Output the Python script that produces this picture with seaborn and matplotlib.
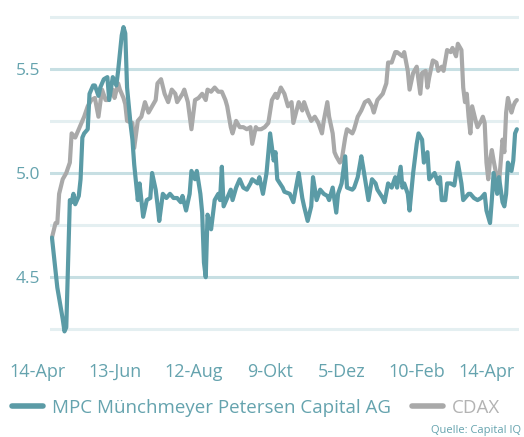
import matplotlib.pyplot as plt
import matplotlib.transforms as mtransforms
import seaborn as sns

sns.set_theme(style="white")
plt.rcParams["font.family"] = ["Open Sans", "DejaVu Sans"]

# DATEN (Handelstage ab 14-Apr)

mpc_tag = [0, 3, 6, 7, 8, 10, 11, 12, 13, 15, 16, 17, 18, 20, 21, 23, 24, 26, 27, 29,
           31, 32, 34, 36, 37, 39, 40, 41, 42, 44, 45, 46, 48, 49, 51, 53, 55, 56, 58, 59,
           60, 62, 64, 66, 68, 70, 72, 73, 75, 77, 78, 80, 81, 83, 84, 85, 86, 87, 88, 89,
           91, 93, 94, 95, 96, 98, 100, 101, 103, 105, 107, 109, 111, 112, 115, 116, 118, 120, 122, 124,
           125, 126, 129, 130, 133, 135, 138, 140, 141, 143, 145, 146, 148, 150, 152, 154, 155, 157, 159, 160,
           162, 164, 165, 168, 169, 171, 173, 174, 177, 179, 181, 182, 185, 186, 188, 190, 192, 193, 195, 196,
           197, 199, 200, 202, 204, 205, 207, 208, 210, 211, 212, 214, 216, 217, 218, 220, 221, 223, 225, 227,
           229, 230, 233, 234, 236, 238, 240, 242, 243, 245, 246, 247, 249, 250, 252, 253, 254, 255, 257, 258,
           259, 260]
mpc_kurs = [4.69, 4.45, 4.30, 4.24, 4.26, 4.87, 4.86, 4.90, 4.85, 4.89, 4.97, 5.17, 5.19, 5.21, 5.38, 5.42, 5.42, 5.37, 5.41, 5.45,
            5.46, 5.35, 5.46, 5.42, 5.49, 5.66, 5.70, 5.67, 5.41, 5.23, 5.16, 5.04, 4.87, 4.95, 4.79, 4.87, 4.88, 5.00, 4.92, 4.85,
            4.77, 4.90, 4.88, 4.90, 4.88, 4.88, 4.86, 4.89, 4.82, 4.90, 5.01, 4.97, 5.01, 4.90, 4.81, 4.57, 4.50, 4.80, 4.77, 4.73,
            4.87, 4.90, 4.87, 5.03, 4.84, 4.88, 4.92, 4.87, 4.93, 4.97, 4.93, 4.92, 4.95, 4.97, 4.95, 4.98, 4.90, 5.00, 5.19, 5.06,
            5.10, 4.97, 4.93, 4.91, 4.90, 4.86, 5.00, 4.88, 4.84, 4.77, 4.84, 4.98, 4.87, 4.92, 4.90, 4.89, 4.87, 4.93, 4.81, 4.90,
            4.95, 5.08, 4.93, 4.92, 4.93, 4.98, 5.08, 5.03, 4.87, 4.97, 4.95, 4.92, 4.88, 4.86, 4.95, 4.93, 4.98, 4.93, 5.03, 4.93,
            4.95, 4.90, 4.82, 5.00, 5.14, 5.19, 5.16, 5.05, 5.10, 4.97, 4.98, 5.00, 4.95, 4.98, 4.87, 4.87, 4.95, 4.95, 4.94, 5.05,
            4.95, 4.87, 4.90, 4.90, 4.88, 4.87, 4.88, 4.90, 4.82, 4.76, 4.87, 5.00, 4.90, 4.98, 4.86, 4.84, 4.90, 5.05, 5.01, 5.06,
            5.19, 5.21]

cdax_tag = [0, 2, 3, 4, 6, 8, 10, 11, 13, 15, 17, 18, 20, 22, 24, 26, 28, 30, 31, 34,
            35, 37, 38, 40, 41, 42, 45, 46, 48, 50, 52, 54, 56, 58, 59, 61, 63, 65, 67, 69,
            70, 73, 74, 76, 78, 80, 82, 84, 86, 87, 89, 91, 93, 95, 97, 98, 100, 101, 103, 105,
            107, 109, 111, 112, 114, 115, 117, 119, 121, 123, 125, 126, 128, 130, 132, 134, 135, 138, 140, 141,
            143, 145, 147, 149, 151, 152, 154, 155, 157, 158, 159, 161, 162, 164, 165, 168, 169, 171, 173, 175,
            177, 179, 180, 182, 183, 185, 187, 188, 190, 192, 193, 196, 197, 199, 200, 202, 204, 206, 207, 209,
            210, 211, 213, 215, 216, 218, 219, 221, 223, 224, 226, 227, 229, 230, 231, 232, 233, 234, 235, 237,
            238, 240, 241, 242, 243, 244, 245, 246, 247, 249, 250, 252, 253, 254, 255, 257, 258, 259, 260]
cdax_kurs = [4.69, 4.76, 4.76, 4.90, 4.97, 5.00, 5.05, 5.19, 5.17, 5.21, 5.25, 5.27, 5.32, 5.35, 5.36, 5.27, 5.40, 5.35, 5.35, 5.40,
             5.36, 5.43, 5.40, 5.36, 5.33, 5.25, 5.24, 5.12, 5.25, 5.27, 5.34, 5.29, 5.32, 5.35, 5.43, 5.45, 5.38, 5.34, 5.40, 5.38,
             5.34, 5.38, 5.40, 5.34, 5.21, 5.35, 5.36, 5.38, 5.35, 5.40, 5.39, 5.41, 5.39, 5.39, 5.35, 5.32, 5.22, 5.19, 5.25, 5.22,
             5.22, 5.21, 5.22, 5.14, 5.22, 5.21, 5.21, 5.22, 5.24, 5.35, 5.38, 5.36, 5.41, 5.38, 5.32, 5.34, 5.24, 5.34, 5.30, 5.34,
             5.29, 5.25, 5.27, 5.24, 5.19, 5.25, 5.34, 5.27, 5.19, 5.10, 5.08, 5.05, 5.06, 5.17, 5.21, 5.19, 5.21, 5.27, 5.30, 5.34,
             5.35, 5.32, 5.29, 5.35, 5.36, 5.38, 5.43, 5.53, 5.53, 5.58, 5.58, 5.56, 5.58, 5.49, 5.40, 5.48, 5.51, 5.38, 5.48, 5.49,
             5.41, 5.46, 5.54, 5.53, 5.49, 5.51, 5.49, 5.59, 5.58, 5.60, 5.56, 5.62, 5.59, 5.41, 5.34, 5.38, 5.27, 5.19, 5.32, 5.25,
             5.22, 5.25, 5.27, 5.24, 5.05, 4.97, 5.06, 5.11, 5.06, 4.97, 4.95, 5.16, 5.10, 5.29, 5.36, 5.29, 5.32, 5.34, 5.35]

datum_labels = ["14-Apr", "13-Jun", "12-Aug", "9-Okt", "5-Dez", "10-Feb", "14-Apr"]
datum_pos = [-8, 35, 79, 122, 162, 204, 243]

# FARBEN

teal = "#5b9ba6"
teal_text = "#65a3ae"
grau = "#a9a9a9"

# GRAFIK

fig = plt.figure(figsize=(5.24, 4.37), dpi=100)
ax = fig.add_axes([50 / 524, 1 - 333.5 / 437, 469 / 524, 321 / 437])

sns.lineplot(x=mpc_tag, y=mpc_kurs, ax=ax, color=teal, linewidth=3.0,
             label="MPC Münchmeyer Petersen Capital AG", zorder=3)
sns.lineplot(x=cdax_tag, y=cdax_kurs, ax=ax, color=grau, linewidth=3.0,
             label="CDAX", zorder=2)

ax.set_xlim(-1.1, 261.2)
ax.set_ylim(4.23, 5.77)

ax.set_yticks([4.5, 5.0, 5.5])
ax.set_yticklabels(["4.5", "5.0", "5.5"])
ax.set_yticks([4.25, 4.75, 5.25, 5.75], minor=True)
ax.set_xticks([])

ax.grid(False)
ax.yaxis.grid(True, which="major", color="#c7dfe3", linewidth=2.2)
ax.yaxis.grid(True, which="minor", color="#e4eff1", linewidth=2.2)
ax.set_axisbelow(True)

ax.tick_params(axis="y", which="both", length=0, pad=7,
               labelsize=12.5, labelcolor=teal_text)

for s in ax.spines.values():
    s.set_visible(False)

# x labels unterhalb
trans = mtransforms.blended_transform_factory(ax.transData, fig.transFigure)
for pos, txt in zip(datum_pos, datum_labels):
    ax.text(pos, (437 - 372) / 437, txt, transform=trans, ha="center", va="center",
            fontsize=13, color=teal_text, clip_on=False)

# LEGENDE
ax.get_legend().remove()
handles, labels = ax.get_legend_handles_labels()
leg = fig.legend(handles, labels, loc="center", bbox_to_anchor=(0.489, (437 - 408) / 437),
                 ncol=2, frameon=False, fontsize=13.5, handlelength=1.65,
                 handletextpad=0.5, columnspacing=1.1, labelcolor=[teal_text, "#b3b3b3"])
for line in leg.get_lines():
    line.set_linewidth(4)

fig.text(521 / 524, (437 - 430) / 437, "Quelle: Capital IQ", ha="right", va="center",
         fontsize=8, color=teal_text)

fig.savefig("out.png", dpi=100)
